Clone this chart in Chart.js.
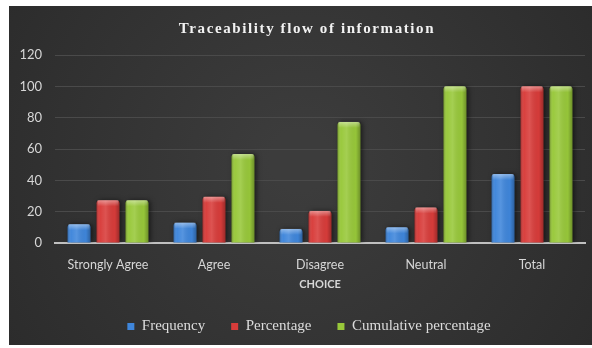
<!DOCTYPE html>
<html>
<head>
<meta charset="utf-8">
<script src="https://cdn.jsdelivr.net/npm/chart.js@4.4.1/dist/chart.umd.min.js"></script>
<style>
  html, body { margin: 0; padding: 0; background: #ffffff; }
  #wrap { position: relative; width: 592px; height: 348px; }
</style>
</head>
<body>
<div id="wrap"><canvas id="chart" width="592" height="348"></canvas></div>
<script>
// Survey responses on the traceability flow of information
const choices = ['Strongly Agree', 'Agree', 'Disagree', 'Neutral', 'Total'];
const frequency = [12, 13, 9, 10, 44];
const percentage = [27.3, 29.5, 20.5, 22.7, 100];
const cumulativePercentage = [27.3, 56.8, 77.3, 100, 100];
const yTicks = [0, 20, 40, 60, 80, 100, 120];

const seriesNames = ['Frequency', 'Percentage', 'Cumulative percentage'];
const seriesColors = ['#3f86db', '#d83c3a', '#98c83a'];

// dark panel behind the whole chart
const panelBackground = {
  id: 'panelBackground',
  beforeDraw(chart) {
    const { ctx, width, height } = chart;
    ctx.save();
    const x0 = 9, y0 = 6, x1 = width, y1 = height - 3;
    const g = ctx.createRadialGradient(300, 160, 30, 300, 170, 360);
    g.addColorStop(0, '#3c3c3c');
    g.addColorStop(1, '#2b2b2b');
    ctx.fillStyle = g;
    ctx.fillRect(x0, y0, x1 - x0, y1 - y0);
    ctx.restore();
  }
};

// letter-spaced serif heading
const heading = {
  id: 'heading',
  afterDraw(chart) {
    const { ctx } = chart;
    ctx.save();
    ctx.font = 'bold 15px "Liberation Serif", "Times New Roman", serif';
    ctx.letterSpacing = '1.6px';
    ctx.fillStyle = '#f2f2f2';
    ctx.textAlign = 'center';
    ctx.textBaseline = 'alphabetic';
    ctx.fillText('Traceability flow of information', 307, 33);
    ctx.restore();
  }
};

// nudge the legend row a little to the right of the panel centre
const legendShift = {
  id: 'legendShift',
  afterLayout(chart) {
    if (chart.legend) chart.legend.left += 24;
  }
};

// soft drop shadow while bars are drawn, then glossy shading on top
const barShine = {
  id: 'barShine',
  beforeDatasetsDraw(chart) {
    const { ctx } = chart;
    ctx.save();
    ctx.shadowColor = 'rgba(0,0,0,0.55)';
    ctx.shadowBlur = 5;
    ctx.shadowOffsetX = 2;
    ctx.shadowOffsetY = 0;
  },
  afterDatasetsDraw(chart) {
    const { ctx } = chart;
    ctx.restore();
    chart.data.datasets.forEach((ds, di) => {
      const meta = chart.getDatasetMeta(di);
      meta.data.forEach(bar => {
        const { x, y, base, width } = bar.getProps(['x', 'y', 'base', 'width'], true);
        const left = x - width / 2;
        const h = base - y;
        if (h <= 0) return;
        ctx.save();
        const g = ctx.createLinearGradient(left, 0, left + width, 0);
        g.addColorStop(0, 'rgba(0,0,0,0.25)');
        g.addColorStop(0.15, 'rgba(255,255,255,0.02)');
        g.addColorStop(0.4, 'rgba(255,255,255,0.12)');
        g.addColorStop(0.8, 'rgba(0,0,0,0.02)');
        g.addColorStop(1, 'rgba(0,0,0,0.28)');
        ctx.fillStyle = g;
        ctx.fillRect(left, y, width, h);
        // lighter rounded cap
        const cap = ctx.createLinearGradient(0, y, 0, y + 6);
        cap.addColorStop(0, 'rgba(255,255,255,0.4)');
        cap.addColorStop(1, 'rgba(255,255,255,0)');
        ctx.fillStyle = cap;
        ctx.fillRect(left + 1, y, width - 2, 6);
        ctx.restore();
      });
    });
  }
};

const valueSets = [frequency, percentage, cumulativePercentage];

new Chart(document.getElementById('chart'), {
  type: 'bar',
  data: {
    labels: choices,
    datasets: valueSets.map((vals, i) => ({
      label: seriesNames[i],
      data: vals,
      backgroundColor: seriesColors[i],
      borderWidth: 0,
      borderRadius: { topLeft: 3, topRight: 3 },
      borderSkipped: 'bottom',
      barPercentage: 0.79,
      categoryPercentage: 0.82
    }))
  },
  options: {
    responsive: false,
    animation: false,
    devicePixelRatio: 1,
    layout: { padding: { top: 55, left: 9, right: 7, bottom: 4 } },
    scales: {
      x: {
        grid: { display: false, drawTicks: false },
        border: { display: true, color: '#c0c0c0', width: 2 },
        ticks: { color: '#d6d6d6', padding: 14, font: { family: 'Lato', size: 12.5 } },
        title: {
          display: true, text: 'CHOICE', color: '#d6d6d6',
          font: { family: 'Lato', size: 11, weight: 'bold' },
          padding: { top: 0, bottom: 2 }
        },
        afterFit(scale) { scale.height = 50; }
      },
      y: {
        min: 0, max: 120,
        afterBuildTicks(scale) { scale.ticks = yTicks.map(v => ({ value: v })); },
        grid: { color: '#4a4a4a', lineWidth: 1, drawTicks: false },
        border: { display: false },
        ticks: { color: '#d6d6d6', padding: 13, font: { family: 'Lato', size: 13 } },
        afterFit(scale) { scale.width = 46; }
      }
    },
    plugins: {
      title: { display: false },
      tooltip: { enabled: false },
      legend: {
        position: 'bottom',
        maxHeight: 56,
        labels: {
          color: '#dcdcdc',
          boxWidth: 7,
          boxHeight: 7,
          padding: 26,
          font: { family: '"Liberation Serif", "Times New Roman", serif', size: 15 }
        }
      }
    }
  },
  plugins: [panelBackground, heading, legendShift, barShine]
});
</script>
</body>
</html>
